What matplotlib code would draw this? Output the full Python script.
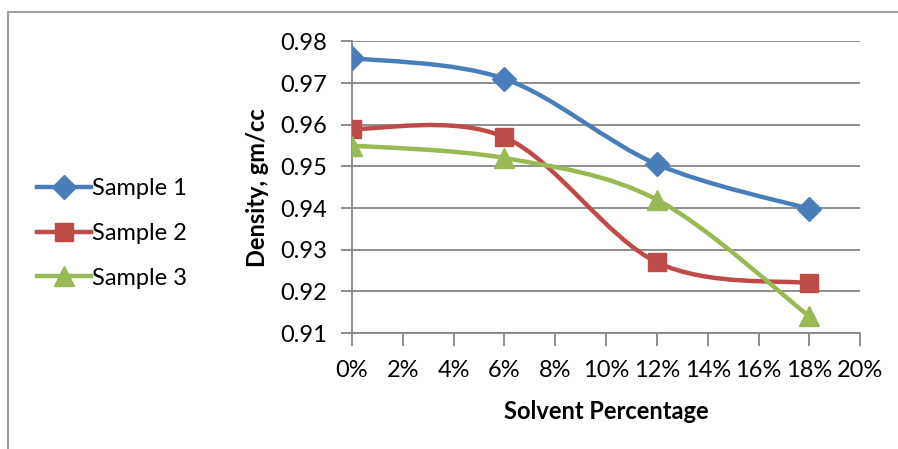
import matplotlib.pyplot as plt
import numpy as np
from matplotlib.path import Path
from matplotlib.patches import PathPatch
from matplotlib.lines import Line2D
from matplotlib.ticker import PercentFormatter, MultipleLocator

plt.rcParams['font.family'] = ['Lato', 'DejaVu Sans']

solvent = [0.00, 0.06, 0.12, 0.18]
sample1 = [0.976, 0.971, 0.9505, 0.9398]
sample2 = [0.959, 0.957, 0.927, 0.922]
sample3 = [0.955, 0.952, 0.942, 0.914]
names = ["Sample 1", "Sample 2", "Sample 3"]
colors = ["#4A7EBB", "#BE4B48", "#98B954"]
markers = ["D", "s", "^"]
msizes = [12, 13, 14]


def smooth_path(x, y):
    # Catmull-Rom style bezier through the points, like Excel's smoothed line
    p = np.column_stack([x, y]).astype(float)
    n = len(p)
    verts = [p[0]]
    codes = [Path.MOVETO]
    for i in range(n - 1):
        prev = p[i - 1] if i > 0 else p[i]
        nxt = p[i + 2] if i + 2 < n else p[i + 1]
        c1 = p[i] + (p[i + 1] - prev) / 6
        c2 = p[i + 1] - (nxt - p[i]) / 6
        verts += [c1, c2, p[i + 1]]
        codes += [Path.CURVE4] * 3
    return Path(verts, codes)


fig = plt.figure(figsize=(8.98, 4.49), dpi=100)
ax = fig.add_axes([0.392, 0.258, 0.566, 0.650])

grey = "#868686"
for ys, c, m, ms in zip([sample1, sample2, sample3], colors, markers, msizes):
    ax.add_patch(PathPatch(smooth_path(solvent, ys), fill=False, edgecolor=c,
                           lw=3.2, capstyle='round', joinstyle='round', zorder=3))
    ax.plot(solvent, ys, linestyle='none', marker=m, ms=ms, color=c, zorder=4)

ax.set_xlim(0, 0.20)
ax.set_ylim(0.91, 0.98)
ax.xaxis.set_major_locator(MultipleLocator(0.02))
ax.xaxis.set_major_formatter(PercentFormatter(xmax=1, decimals=0))
ax.yaxis.set_major_locator(MultipleLocator(0.01))
ax.yaxis.set_major_formatter(plt.FormatStrFormatter('%.2f'))
ax.grid(axis='y', color=grey, lw=1.3)
ax.set_axisbelow(True)
for s in ['top', 'right']:
    ax.spines[s].set_visible(False)
for s in ['left', 'bottom']:
    ax.spines[s].set_color(grey)
    ax.spines[s].set_linewidth(1.3)
ax.tick_params(axis='x', direction='out', length=9, width=1.3, color=grey,
               labelsize=17, pad=10)
ax.tick_params(axis='y', direction='out', length=8, width=1.3, color=grey,
               labelsize=17, pad=10)
ax.set_xlabel("Solvent Percentage", fontsize=17, fontweight='bold', labelpad=14)
ax.set_ylabel("Density, gm/cc", fontsize=17, fontweight='bold', labelpad=8)

handles = [Line2D([], [], color=c, lw=3.2, marker=m, ms=ms)
           for c, m, ms in zip(colors, markers, msizes)]
fig.legend(handles, names, loc='center left', bbox_to_anchor=(0.017, 0.48),
           frameon=False, fontsize=17, handlelength=2.3, handletextpad=0.05,
           labelspacing=1.0)

# chart border (only top and left edges fall inside the image)
fig.add_artist(Line2D([0.009, 0.009, 1.0], [0.0, 0.973, 0.973],
                      transform=fig.transFigure, color="#A0A0A0", lw=1.5))

fig.savefig("out.png", dpi=100, facecolor='white')
